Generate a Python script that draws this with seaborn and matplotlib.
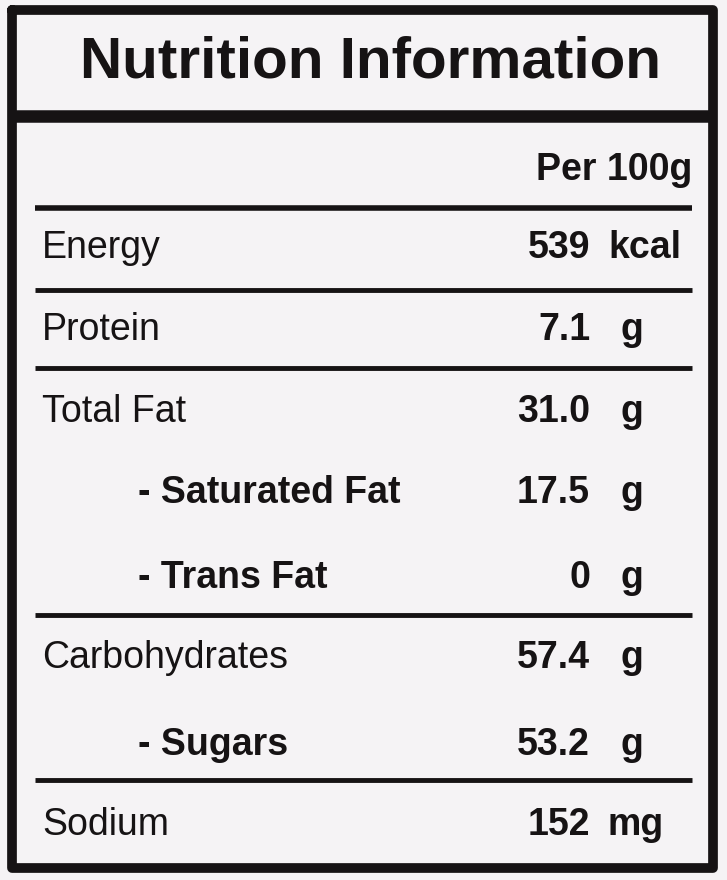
import matplotlib
matplotlib.use("Agg")
import matplotlib.pyplot as plt
import seaborn as sns

title = "Nutrition Information"
header = "Per 100g"
nutrients = ["Energy", "Protein", "Total Fat", "- Saturated Fat", "- Trans Fat",
             "Carbohydrates", "- Sugars", "Sodium"]
amounts = ["539", "7.1", "31.0", "17.5", "0", "57.4", "53.2", "152"]
units = ["kcal", "g", "g", "g", "g", "g", "g", "mg"]
indented = [False, False, False, True, True, False, True, False]

sns.set_theme(style="white")
plt.rcParams['font.family'] = ['Liberation Sans Narrow', 'Liberation Sans', 'DejaVu Sans']

fig = plt.figure(figsize=(7.27, 8.80), dpi=100, facecolor="#f5f3f5")
ax = fig.add_axes([0, 0, 1, 1])
ax.set_xlim(0, 727)
ax.set_ylim(880, 0)
ax.axis("off")
ax.set_facecolor("#f5f3f5")

ink = "#161314"
# outer border
ax.plot([12, 713, 713, 12, 12], [10, 10, 868, 868, 10], color=ink, lw=7)
ax.text(370, 62, title, ha="center", va="center", fontsize=42, fontweight="bold", color=ink)
ax.hlines(116, 12, 713, color=ink, lw=9)
ax.text(692, 170, header, ha="right", va="center", fontsize=27, fontweight="bold", color=ink)

row_y = [248, 330, 412, 493, 578, 658, 745, 825]
sep_y = [(208, 4), (290, 3.5), (368, 3.5), (615, 3.5), (780, 3.5)]
for y, w in sep_y:
    ax.hlines(y, 35, 692, color=ink, lw=w)

for y, name, amt, unit, ind in zip(row_y, nutrients, amounts, units, indented):
    ax.text(138 if ind else 42, y, name, ha="left", va="center", fontsize=27,
            fontweight="bold" if ind else "normal", color=ink)
    ax.text(590, y, amt, ha="right", va="center", fontsize=27, fontweight="bold", color=ink)
    ax.text(608 if unit != "g" else 620, y, unit, ha="left", va="center", fontsize=27,
            fontweight="bold", color=ink)

fig.savefig("out.png", dpi=100, facecolor=fig.get_facecolor())
